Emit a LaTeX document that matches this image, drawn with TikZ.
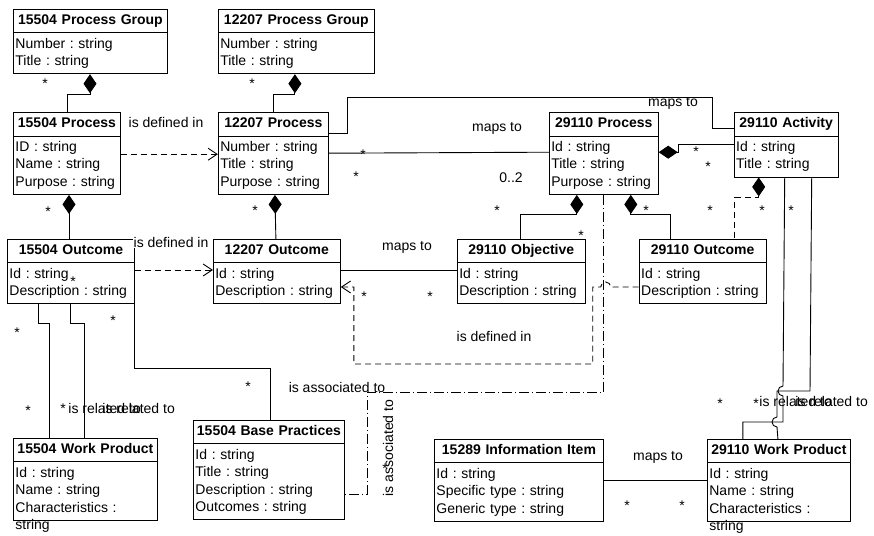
\documentclass[tikz,border=0pt]{standalone}
\usepackage{fontspec}
\setmainfont{Liberation Sans}
\usetikzlibrary{arrows.meta,calc,positioning,shapes.multipart}
\newcommand{\classfont}{\fontsize{14}{17.5}\selectfont\frenchspacing}
\newcommand{\umlhead}[1]{\hbox to\hsize{\hfil\strut\textbf{#1}\hfil}}
\newcommand{\umlattr}[1]{\raggedright\strut#1\strut}
\newcommand{\overflow}[1]{\leavevmode\rlap{\smash{\raisebox{-17.5pt}{#1}}}}

\begin{document}
\begin{tikzpicture}[x=1pt, y=-1pt, line width=0.9pt, font=\classfont,
	umlclass/.style={draw, rectangle split, rectangle split parts=2, text width=#1, inner xsep=2pt, inner ysep=2.5pt},
	comp/.style={arrows={Diamond[length=19pt,width=13pt]-}},
	defin/.style={dash pattern=on 6pt off 4pt, arrows={-Straight Barb[length=9pt,width=12pt]}},
	assoc/.style={dash pattern=on 10pt off 3pt on 1pt off 3pt},
	lbl/.style={inner sep=0pt, anchor=base},
	mult/.style={inner sep=0pt, anchor=base}]
	\useasboundingbox (0,0) rectangle (874,535);

	\node[umlclass=150pt, anchor=north west] (pg15504) at (13,9) {\umlhead{15504 Process Group}\nodepart{two}\umlattr{Number : string\\Title : string}};
	\node[umlclass=152pt, right=50pt of pg15504.north east, anchor=north west] (pg12207) {\umlhead{12207 Process Group}\nodepart{two}\umlattr{Number : string\\Title : string}};
	\node[umlclass=103pt, below=38pt of pg15504.south west, anchor=north west] (p15504) {\umlhead{15504 Process}\nodepart{two}\umlattr{ID : string\\Name : string\\Purpose : string}};
	\node[umlclass=106pt, below=38pt of pg12207.south west, anchor=north west] (p12207) {\umlhead{12207 Process}\nodepart{two}\umlattr{Number : string\\Title : string\\Purpose : string}};
	\node[umlclass=105pt, right=220pt of p12207.north east, anchor=north west] (p29110) {\umlhead{29110 Process}\nodepart{two}\umlattr{Id : string\\Title : string\\Purpose : string}};
	\node[umlclass=100pt, right=75pt of p29110.north east, anchor=north west] (a29110) {\umlhead{29110 Activity}\nodepart{two}\umlattr{Id : string\\Title : string}};
	\node[umlclass=123pt, anchor=north west] (o15504) at (7,239) {\umlhead{15504 Outcome}\nodepart{two}\umlattr{Id : string\\Description : string}};
	\node[umlclass=123pt, right=78pt of o15504.north east, anchor=north west] (o12207) {\umlhead{12207 Outcome}\nodepart{two}\umlattr{Id : string\\Description : string}};
	\node[umlclass=124pt, right=116pt of o12207.north east, anchor=north west] (obj29110) {\umlhead{29110 Objective}\nodepart{two}\umlattr{Id : string\\Description : string}};
	\node[umlclass=123pt, right=53pt of obj29110.north east, anchor=north west] (o29110) {\umlhead{29110 Outcome}\nodepart{two}\umlattr{Id : string\\Description : string}};
	\node[umlclass=140pt, anchor=north west] (wp15504) at (13,438) {\umlhead{15504 Work Product}\nodepart{two}\umlattr{Id : string\\Name : string\\\overflow{string}Characteristics :}};
	\node[umlclass=147pt, anchor=north west] (bp15504) at (193,420) {\umlhead{15504 Base Practices}\nodepart{two}\umlattr{Id : string\\Title : string\\Description : string\\Outcomes : string}};
	\node[umlclass=165pt, anchor=north west] (ii15289) at (434,439) {\umlhead{15289 Information Item}\nodepart{two}\umlattr{Id : string\\Specific type : string\\Generic type : string}};
	\node[umlclass=139pt, right=103pt of ii15289.north east, anchor=north west] (wp29110) {\umlhead{29110 Work Product}\nodepart{two}\umlattr{Id : string\\Name : string\\\overflow{string}Characteristics :}};

	\draw[comp] ($(pg15504.south west)+(77,0)$) -- ++(0,20) -| ($(p15504.north west)+(54,0)$);
	\draw[comp] ($(pg12207.south west)+(77,0)$) -- ++(0,20) -| ($(p12207.north west)+(56,0)$);
	\draw[comp] ($(p15504.south west)+(56,0)$) -- ($(o15504.north west)+(62,0)$);
	\draw[comp] ($(p12207.south west)+(57,0)$) -- ($(o12207.north west)+(63,0)$);
	\draw[defin] ($(p15504.north east)+(0,42)$) -- ($(p12207.north west)+(0,42)$);
	\draw ($(p12207.north east)+(0,41)$) -- ($(p29110.north west)+(0,40)$);
	\draw ($(p12207.north east)+(0,21)$) -- ++(19,0) |- (712,97) |- ($(a29110.north west)+(0,16)$);
	\draw[comp] ($(p29110.north east)+(0,40)$) -- ++(20,0) |- ($(a29110.north west)+(0,32)$);
	\draw[comp] ($(p29110.south west)+(28,0)$) -- ++(0,20) -| ($(obj29110.north west)+(64,0)$);
	\draw[comp] ($(p29110.south west)+(82,0)$) -- ++(0,20) -| ($(o29110.north west)+(32,0)$);
	\draw[comp, dash pattern=on 6pt off 4pt] ($(a29110.south west)+(25,0)$) -- ++(0,20) -| ($(o29110.north west)+(96,0)$);
	\draw ($(a29110.south west)+(51,0)$) -- (783,386) arc[start angle=270, end angle=90, radius=5] -- (783,422) -| ($(wp29110.north west)+(36,0)$);
	\draw ($(a29110.south west)+(78,0)$) -- (810,391) -- (777,391) -- (777,417) arc[start angle=270, end angle=90, radius=5] -- ($(wp29110.north west)+(71,0)$);
	\draw ($(o15504.south west)+(31,0)$) -- ++(0,19) -| ($(wp15504.north west)+(36,0)$);
	\draw ($(o15504.south west)+(63,0)$) -- ++(0,19) -| ($(wp15504.north west)+(71,0)$);
	\draw (o15504.south east) -- ++(0,64) -| ($(bp15504.north west)+(77,0)$);
	\draw[defin] ($(o15504.north east)+(0,31)$) -- ($(o12207.north west)+(0,31)$);
	\draw ($(obj29110.north west)+(0,31)$) -- ($(o12207.north east)+(0,31)$);
	\draw[defin] ($(o29110.north west)+(0,48)$) -- ++(-28,0) arc[start angle=0, end angle=-180, radius=5] -| ++(-8,77) -| ($(o12207.north east)+(13,48)$) -- ($(o12207.north east)+(0,48)$);
	\draw[assoc] ($(p29110.south west)+(55,0)$) |- (367,392) |- ($(bp15504.north east)+(0,74)$);
	\draw ($(ii15289.north east)+(0,41)$) -- ($(wp29110.north west)+(0,41)$);

	\node[lbl] (def1) at (166,127) {is defined in};
	\node[lbl, fill=white, inner sep=1pt] (def2) at (171,247) {is defined in};
	\node[lbl] (def3) at (494,341) {is defined in};
	\node[lbl] (map1) at (497,131) {maps to};
	\node[lbl] (map2) at (673,106) {maps to};
	\node[lbl] (map3) at (407,250) {maps to};
	\node[lbl] (map4) at (658,460) {maps to};
	\node[lbl] (rng1) at (511,182) {0..2};
	\node[lbl] (asc1) at (337,392) {is associated to};
	\node[lbl, rotate=90] (asc2) at (393,448) {is associated to};
	\node[lbl, anchor=base west] (rel1) at (68,413) {is related to};
	\node[lbl, anchor=base west] (rel2) at (102,413) {is related to};
	\node[lbl, anchor=base west] (rel3) at (759,406) {is related to};
	\node[lbl, anchor=base west] (rel4) at (795,406) {is related to};

	\node[mult] (m1) at (45,88) {*};
	\node[mult] (m2) at (252,88) {*};
	\node[mult] (m3) at (48,216) {*};
	\node[mult] (m4) at (255,215) {*};
	\node[mult] (m5) at (363,159) {*};
	\node[mult] (m6) at (356,181) {*};
	\node[mult] (m7) at (497,215) {*};
	\node[mult] (m8) at (581,240) {*};
	\node[mult] (m9) at (646,215) {*};
	\node[mult] (m10) at (696,156) {*};
	\node[mult] (m11) at (708,171) {*};
	\node[mult] (m12) at (710,215) {*};
	\node[mult] (m13) at (762,215) {*};
	\node[mult] (m14) at (791,215) {*};
	\node[mult] (m15) at (17,337) {*};
	\node[mult] (m16) at (73,286) {*};
	\node[mult] (m17) at (113,325) {*};
	\node[mult] (m18) at (28,415) {*};
	\node[mult] (m19) at (63,413) {*};
	\node[mult] (m20) at (248,391) {*};
	\node[mult] (m21) at (364,301) {*};
	\node[mult] (m22) at (430,301) {*};
	\node[mult] (m23) at (385,473) {*};
	\node[mult] (m24) at (627,510) {*};
	\node[mult] (m25) at (682,510) {*};
	\node[mult] (m26) at (720,408) {*};
	\node[mult] (m27) at (756,408) {*};
\end{tikzpicture}
\end{document}
